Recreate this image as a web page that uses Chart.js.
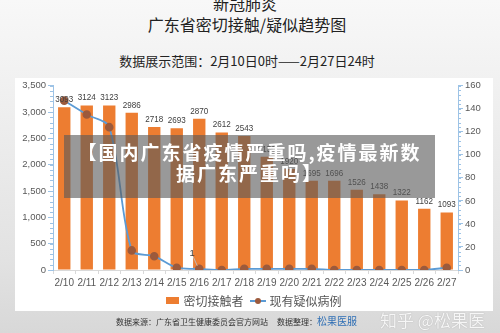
<!DOCTYPE html>
<html>
<head>
<meta charset="utf-8">
<script src="https://cdn.jsdelivr.net/npm/chart.js@4/dist/chart.umd.min.js"></script>
<style>
  html, body { margin: 0; padding: 0; }
  body {
    width: 500px; height: 333px; overflow: hidden; position: relative;
    background: linear-gradient(#f8f8f8 0px, #f1f1f1 80px, #e2e2e2 260px, #d8d8d8 333px);
    font-family: "Noto Sans CJK SC", "Noto Sans", sans-serif;
  }
  .t1 { position: absolute; left: 0; width: 490px; text-align: center; top: -9px; font-size: 16px; color: #222; }
  .t2 { position: absolute; left: 0; width: 494px; text-align: center; top: 12px; font-size: 16px; color: #222; }
  .t3 { position: absolute; left: 0; width: 494px; text-align: center; top: 51px; font-size: 13px; color: #222; }
  .card { position: absolute; left: 15px; top: 78px; width: 478px; height: 233px; background: #fff; }
  #wrap { position: absolute; left: 0; top: 0; width: 478px; height: 214px; }
  .legend { position: absolute; left: 0; width: 478px; top: 212px; text-align: center; font-size: 12px; color: #555; }
  .legend span { display: inline-block; vertical-align: middle; }
  .sw { width: 13px; height: 7px; background: #ed7d31; margin-right: 4px; }
  .ln { width: 16px; height: 2px; background: #5b9bd5; position: relative; margin: 0 4px 0 6px; }
  .ln i { position: absolute; left: 5px; top: -2px; width: 6px; height: 6px; border-radius: 3px; background: #9c5a3c; }
  .banner {
    position: absolute; left: 64px; top: 135px; width: 371px; height: 63px;
    background: rgba(90, 90, 90, 0.62); color: #fff; font-weight: bold;
    font-size: 19px; line-height: 21px; letter-spacing: 2px; text-align: center;
    padding-top: 6px; box-sizing: border-box;
  }
  .foot { position: absolute; top: 313px; left: 116px; font-size: 8px; color: #333; }
  .foot b { font-weight: normal; color: #2f6fb5; font-size: 10px; }
  .wm { position: absolute; left: 380px; top: 307px; font-size: 17px; color: rgba(255,255,255,0.9); text-shadow: 0 0 1px #999; }
</style>
</head>
<body>
<div class="t1">新冠肺炎</div>
<div class="t2">广东省密切接触/疑似趋势图</div>
<div class="t3">数据展示范围：2月10日0时——2月27日24时</div>
<div class="card">
  <div id="wrap"><canvas id="c"></canvas></div>
  <div class="legend"><span class="sw"></span><span>密切接触者</span><span class="ln"><i></i></span><span>现有疑似病例</span></div>
</div>
<div class="banner">【国内广东省疫情严重吗,疫情最新数<br>据广东严重吗】</div>
<div class="foot">数据来源：广东省卫生健康委员会官方网站&nbsp;&nbsp;&nbsp;&nbsp;&nbsp;数据整理：<b>松果医服</b></div>
<div class="wm">知乎 @松果医服</div>

<script>
const dates = ['2/10','2/11','2/12','2/13','2/14','2/15','2/16','2/17','2/18',
               '2/19','2/20','2/21','2/22','2/23','2/24','2/25','2/26','2/27'];
const closeContacts = [3093, 3124, 3123, 2986, 2718, 2693, 2870, 2612, 2543,
                       2150, 1920, 1695, 1696, 1526, 1438, 1322, 1162, 1093];
const suspected = [147, 135, 124, 17, 12, 2, 1, 0, 1, 1, 1, 1, 0, 0, 0, 0, 0, 2];
const suspectedLabels = ['', '', '', '', '', '', '1', '', '', '', '', '', '', '', '', '', '', ''];

const numFont = '"Liberation Sans", Arial, sans-serif';

// bar value labels (slightly condensed), plus the one line label with its leader
const labelPlugin = {
  id: 'labels',
  afterDatasetsDraw(chart) {
    const ctx = chart.ctx;
    ctx.save();
    ctx.font = '9.5px ' + numFont;
    ctx.fillStyle = '#404040';
    ctx.textAlign = 'center';
    ctx.textBaseline = 'bottom';
    chart.getDatasetMeta(0).data.forEach((bar, i) => {
      ctx.save();
      ctx.translate(bar.x, bar.y - 3);
      ctx.scale(0.85, 1);
      ctx.fillText(closeContacts[i], 0, 0);
      ctx.restore();
    });
    chart.getDatasetMeta(1).data.forEach((pt, i) => {
      if (!suspectedLabels[i]) return;
      ctx.strokeStyle = '#bbb';
      ctx.lineWidth = 1;
      ctx.beginPath();
      ctx.moveTo(pt.x - 2, pt.y - 3);
      ctx.lineTo(pt.x - 6, pt.y - 12);
      ctx.stroke();
      ctx.fillText(suspectedLabels[i], pt.x - 7, pt.y - 11);
    });
    ctx.restore();
  }
};

// small minor ticks along both value axes
const minorTicks = {
  id: 'minorTicks',
  afterDraw(chart) {
    const ctx = chart.ctx;
    ctx.save();
    ctx.strokeStyle = '#9dc3e6';
    ctx.lineWidth = 1;
    const y = chart.scales.y, y1 = chart.scales.y1;
    for (let v = 0; v <= 3500; v += 100) {
      const p = Math.round(y.getPixelForValue(v)) + 0.5;
      ctx.beginPath(); ctx.moveTo(y.right - 3, p); ctx.lineTo(y.right, p); ctx.stroke();
    }
    for (let v = 0; v <= 160; v += 4) {
      const p = Math.round(y1.getPixelForValue(v)) + 0.5;
      ctx.beginPath(); ctx.moveTo(y1.left, p); ctx.lineTo(y1.left + 3, p); ctx.stroke();
    }
    ctx.restore();
  }
};

new Chart(document.getElementById('c'), {
  type: 'bar',
  data: {
    labels: dates,
    datasets: [
      {
        label: '密切接触者',
        data: closeContacts,
        backgroundColor: '#ed7d31',
        barPercentage: 0.55,
        categoryPercentage: 1,
        yAxisID: 'y',
        order: 2
      },
      {
        label: '现有疑似病例',
        type: 'line',
        data: suspected,
        borderColor: '#5b9bd5',
        borderWidth: 1.8,
        tension: 0.3,
        pointRadius: 3.4,
        pointBackgroundColor: '#9c5a3c',
        pointBorderColor: '#9c5a3c',
        yAxisID: 'y1',
        order: 1
      }
    ]
  },
  options: {
    responsive: true,
    maintainAspectRatio: false,
    animation: false,
    layout: { padding: { top: 6, left: 0, right: 0, bottom: 0 } },
    plugins: { legend: { display: false }, tooltip: { enabled: false } },
    scales: {
      x: {
        grid: { display: true, drawOnChartArea: false, offset: true, color: '#d9d9d9', tickLength: 4 },
        border: { color: '#d9d9d9' },
        ticks: { color: '#595959', font: { size: 10, family: numFont }, padding: 3,
                 maxRotation: 0, autoSkip: false }
      },
      y: {
        position: 'left',
        min: 0, max: 3500,
        afterFit(s) { s.width = 38; },
        grid: { drawOnChartArea: false, color: '#9dc3e6', tickLength: 5 },
        border: { color: '#9dc3e6' },
        ticks: { stepSize: 500, color: '#595959', font: { size: 9.5, family: numFont }, padding: 2 }
      },
      y1: {
        position: 'right',
        min: 0, max: 160,
        afterFit(s) { s.width = 35; },
        grid: { drawOnChartArea: false, color: '#9dc3e6', tickLength: 5 },
        border: { color: '#9dc3e6' },
        ticks: { stepSize: 20, color: '#595959', font: { size: 9.5, family: numFont }, padding: 2 }
      }
    }
  },
  plugins: [labelPlugin, minorTicks]
});
</script>
</body>
</html>
